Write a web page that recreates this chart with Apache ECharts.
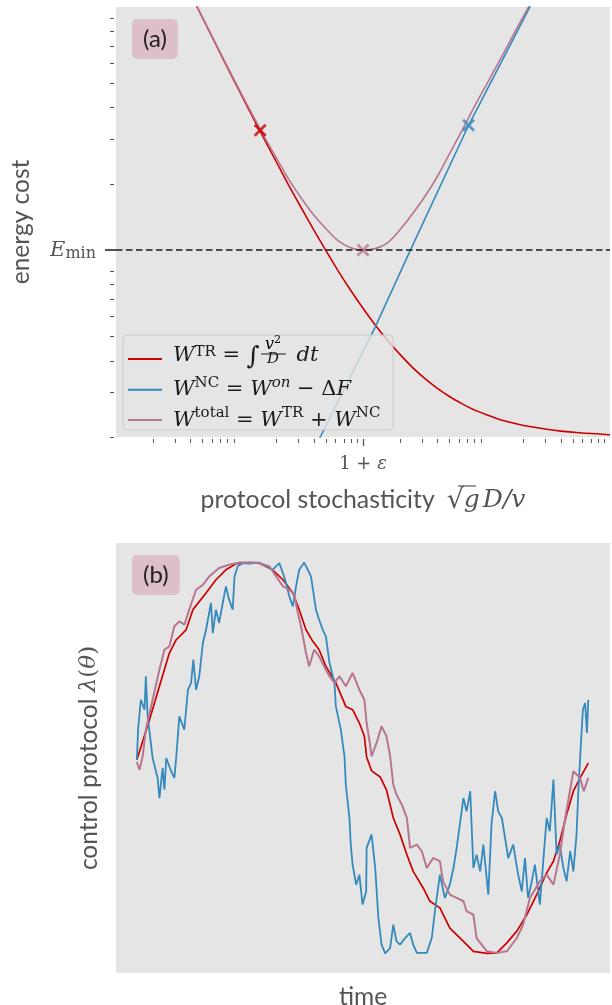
<!DOCTYPE html>
<html><head><meta charset="utf-8">
<script src="https://cdn.jsdelivr.net/npm/echarts@6/dist/echarts.min.js"></script>
<style>html,body{margin:0;padding:0;background:#fff}#c{width:612px;height:1005px}</style>
</head><body><div id="c"></div>
<script>
// ---------- Panel (a): energy cost vs protocol stochasticity (log-log) ----------
const xGrid = [0.0398,0.0501,0.0631,0.0794,0.1,0.126,0.158,0.2,0.251,0.316,0.398,0.501,0.631,0.794,1.0,1.26,1.58,2.0,2.51,3.16,3.98,5.01,6.31,7.94,10,12.6,15.8,20,25.1,31.6,39.8,50.1,63.1,79.4,100];
const yTR = [113.8,90.8,72.5,58.0,46.5,37.3,30.2,24.3,19.7,16.1,13.2,10.9,9.05,7.6,6.45,5.53,4.82,4.23,3.77,3.41,3.12,2.89,2.71,2.56,2.45,2.35,2.28,2.22,2.18,2.14,2.11,2.09,2.07,2.06,2.04];
const xTot = [0.0398,0.0501,0.0631,0.0794,0.1,0.126,0.158,0.2,0.251,0.316,0.398,0.501,0.631,0.794,1.0,1.26,1.58,2.0,2.51,3.16,3.98,5.01,6.31,7.94,10,12.6,15.8,20,25.1];
const yTot = [114.0,91.0,72.8,58.4,46.9,37.9,30.9,25.2,20.8,17.6,15.1,13.3,11.9,11.2,10.95,11.1,11.7,13.2,15.2,17.8,21.3,26.3,32.4,40.2,49.4,60.7,74.6,92.3,113];
const xNC = [0.4,0.451,1.258,2.42,7.16,22.3,25];
const yNC = [1.76,2.0,5.45,10.95,34.1,99.5,110];
const markX = [0.147, 7.16, 1.0];
const markY = [32.6, 34.1, 10.95];
const Emin = 10.95;
const xMinorTicks = [0.02,0.03,0.04,0.05,0.06,0.07,0.08,0.09,0.2,0.3,0.4,0.5,0.6,0.7,0.8,0.9,2,3,4,5,6,7,8,9,20,30,40,50,60,70,80,90];
const xMajorTicks = [1];
const yMinorTicks = [2,3,4,5,6,7,8,9,20,30,40,50,60,70,80,90];
const yMajorTicks = [Emin];

// ---------- Panel (b): control protocol vs time ----------
const tRed = [0,0.028,0.050,0.072,0.087,0.109,0.124,0.153,0.175,0.197,0.219,0.249,0.271,0.300,0.323,0.345,0.359,0.374,0.389,0.403,0.418,0.440,0.462,0.477,0.492,0.503,0.508,0.519,0.538,0.552,0.567,0.582,0.597,0.611,0.633,0.648,0.670,0.692,0.722,0.744,0.774,0.796,0.818,0.840,0.862,0.884,0.906,0.921,0.935,0.950,0.965,0.980,0.998];
const lamRed = [-0.01,0.196,0.367,0.537,0.605,0.656,0.759,0.844,0.912,0.963,0.994,1.0,0.997,0.963,0.912,0.844,0.759,0.656,0.597,0.554,0.469,0.384,0.264,0.247,0.179,0.111,0.005,-0.066,-0.097,-0.164,-0.307,-0.392,-0.495,-0.580,-0.665,-0.733,-0.767,-0.870,-0.938,-0.989,-1.0,-0.997,-0.946,-0.886,-0.802,-0.699,-0.588,-0.528,-0.426,-0.290,-0.170,-0.102,-0.026];
const tPink = [0,0.006,0.013,0.020,0.035,0.050,0.061,0.072,0.083,0.094,0.105,0.116,0.131,0.146,0.160,0.182,0.204,0.227,0.263,0.293,0.308,0.323,0.337,0.348,0.356,0.363,0.374,0.381,0.392,0.403,0.414,0.426,0.437,0.448,0.462,0.477,0.492,0.503,0.508,0.515,0.519,0.530,0.541,0.552,0.560,0.567,0.574,0.586,0.597,0.604,0.619,0.630,0.641,0.655,0.670,0.677,0.692,0.707,0.722,0.729,0.744,0.751,0.774,0.796,0.818,0.840,0.854,0.869,0.891,0.906,0.921,0.935,0.947,0.965,0.980,0.988,0.998];
const lamPink = [-0.02,-0.060,0.009,0.145,0.298,0.452,0.554,0.571,0.674,0.699,0.682,0.759,0.861,0.886,0.929,0.972,0.989,1.0,1.0,0.981,0.929,0.878,0.861,0.835,0.742,0.674,0.537,0.469,0.554,0.520,0.469,0.418,0.384,0.418,0.367,0.435,0.349,0.298,0.179,0.077,0.009,0.077,0.162,0.111,0.009,-0.137,-0.188,-0.239,-0.307,-0.460,-0.443,-0.477,-0.563,-0.512,-0.528,-0.631,-0.699,-0.716,-0.733,-0.784,-0.802,-0.921,-0.989,-0.997,-0.989,-0.921,-0.853,-0.716,-0.631,-0.597,-0.648,-0.495,-0.307,-0.068,-0.102,-0.170,-0.102];
const tBlue = [0,0.003,0.009,0.017,0.020,0.024,0.031,0.035,0.046,0.050,0.057,0.061,0.065,0.076,0.083,0.087,0.094,0.105,0.113,0.120,0.125,0.131,0.138,0.146,0.153,0.164,0.168,0.175,0.182,0.190,0.197,0.204,0.212,0.216,0.223,0.234,0.249,0.271,0.286,0.300,0.315,0.323,0.330,0.337,0.345,0.352,0.359,0.370,0.378,0.385,0.396,0.403,0.411,0.418,0.426,0.437,0.440,0.451,0.459,0.462,0.470,0.473,0.477,0.485,0.492,0.499,0.507,0.508,0.519,0.527,0.534,0.541,0.549,0.560,0.567,0.574,0.582,0.593,0.604,0.611,0.619,0.641,0.652,0.659,0.670,0.681,0.692,0.700,0.707,0.714,0.722,0.729,0.737,0.744,0.751,0.759,0.766,0.777,0.784,0.792,0.799,0.807,0.814,0.821,0.832,0.843,0.851,0.858,0.865,0.873,0.880,0.891,0.899,0.906,0.913,0.921,0.928,0.935,0.943,0.950,0.958,0.965,0.972,0.976,0.980,0.986,0.991,0.995,0.998];
const lamBlue = [-0.01,0.153,0.298,0.247,0.418,0.213,0.077,0.0,-0.102,-0.205,-0.051,-0.162,0.0,-0.068,-0.102,0.0,0.213,0.145,0.349,0.384,0.503,0.349,0.418,0.588,0.656,0.793,0.639,0.759,0.691,0.793,0.878,0.810,0.759,0.929,0.981,0.997,0.994,1.0,0.981,0.963,0.997,0.946,0.895,0.827,0.776,0.878,0.963,1.0,0.963,0.929,0.759,0.707,0.656,0.622,0.486,0.384,0.264,0.145,0.009,-0.137,-0.307,-0.443,-0.546,-0.648,-0.597,-0.750,-0.682,-0.460,-0.392,-0.563,-0.818,-0.955,-1.0,-0.972,-0.853,-0.938,-0.955,-0.921,-0.895,-0.955,-0.997,-0.997,-0.921,-0.784,-0.597,-0.716,-0.648,-0.563,-0.460,-0.341,-0.205,-0.273,-0.170,-0.563,-0.495,-0.580,-0.443,-0.699,-0.341,-0.170,-0.273,-0.307,-0.409,-0.512,-0.443,-0.597,-0.682,-0.512,-0.716,-0.631,-0.546,-0.750,-0.512,-0.307,-0.375,-0.11,-0.495,-0.443,-0.563,-0.631,-0.477,-0.580,-0.392,-0.170,0.0,0.247,0.281,0.128,0.298];

const zip = (a, b) => a.map((v, i) => [v, b[i]]);
const GRAY = '#555555', INK = '#1a1a1a';
const SERIF = 'DejaVu Serif', SANS = 'Lato';
const cRed = '#cc0000', cBlue = '#348abd', cPink = '#b8758f';
const XPATH = 'path://M0,1.5 L1.5,0 L5,3.5 L8.5,0 L10,1.5 L6.5,5 L10,8.5 L8.5,10 L5,6.5 L1.5,10 L0,8.5 L3.5,5 Z';

const M = 21, S = 15;
const mRich = {
  h: {width: 0, lineHeight: 28},
  w: {fontFamily: SERIF, fontStyle: 'italic', fontSize: M, lineHeight: 28, color: INK},
  o: {fontFamily: SERIF, fontSize: M, lineHeight: 28, color: INK},
  s: {fontFamily: SERIF, fontSize: S, lineHeight: 18, verticalAlign: 'top', color: INK},
  si: {fontFamily: SERIF, fontStyle: 'italic', fontSize: S, lineHeight: 18, verticalAlign: 'top', color: INK},
  w1: {fontFamily: SERIF, fontStyle: 'italic', fontSize: M, lineHeight: 16, verticalAlign: 'top', color: INK},
  o1: {fontFamily: SERIF, fontSize: M, lineHeight: 16, verticalAlign: 'top', color: INK},
  s1: {fontFamily: SERIF, fontSize: S, lineHeight: 6, verticalAlign: 'top', color: INK},
  int: {fontFamily: SERIF, fontSize: 25, lineHeight: 20, verticalAlign: 'top', color: INK},
  fr: {width: 30, lineHeight: 28}
};
const legendText = {
  TR: '{h|}{w1|W}{s1|TR}{o1| = }{int|∫}{fr|}{w1| dt}',
  NC: '{h|}{w|W}{s|NC}{o| = }{w|W}{si|on}{o| − Δ}{w|F}',
  total: '{h|}{w|W}{s|total}{o| = }{w|W}{s|TR}{o| + }{w|W}{s|NC}'
};

const chart = echarts.init(document.getElementById('c'));
const labelBox = (txt, top) => ({
  text: txt, left: 132, top: top, backgroundColor: '#dcbfca', borderRadius: 5,
  padding: [7, 11, 7, 11],
  textStyle: {fontFamily: SANS, fontSize: 24, fontWeight: 'normal', color: '#222', lineHeight: 26}
});

chart.setOption({
  animation: false,
  backgroundColor: '#ffffff',
  title: [labelBox('(a)', 19), labelBox('(b)', 555)],
  grid: [
    {left: 116, top: 7, width: 494, height: 430, show: true, backgroundColor: '#e5e5e5', borderWidth: 0, outerBoundsMode: 'none', containLabel: false},
    {left: 116, top: 543, width: 494, height: 430, show: true, backgroundColor: '#e5e5e5', borderWidth: 0, outerBoundsMode: 'none', containLabel: false}
  ],
  xAxis: [
    {type: 'log', logBase: 10, gridIndex: 0, min: 0.01, max: 100, position: 'bottom', offset: 2,
     axisLine: {show: false}, splitLine: {show: false}, axisLabel: {show: false},
     axisTick: {show: true, customValues: xMinorTicks, length: 4, lineStyle: {color: GRAY, width: 1}}},
    {type: 'log', logBase: 10, gridIndex: 0, min: 0.01, max: 100, position: 'bottom', offset: 2,
     axisLine: {show: false}, splitLine: {show: false},
     axisTick: {show: true, customValues: xMajorTicks, length: 7, lineStyle: {color: GRAY, width: 1.3}},
     axisLabel: {show: true, customValues: xMajorTicks, margin: 16, formatter: () => '{o|1 + }{w|ε}',
       rich: {o: {fontFamily: SERIF, fontSize: 18, color: GRAY}, w: {fontFamily: SERIF, fontStyle: 'italic', fontSize: 18, color: GRAY}}},
     name: '{t|protocol stochasticity}{sp|}{r|√}{m|g}{sp2|}{m|D/v}', nameLocation: 'middle', nameGap: 48,
     nameTextStyle: {rich: {
       t: {fontFamily: SANS, fontSize: 24.8, color: GRAY},
       sp: {width: 12},
       sp2: {width: 3},
       r: {fontFamily: SERIF, fontSize: 27, color: GRAY},
       m: {fontFamily: SERIF, fontStyle: 'italic', fontSize: 25, color: GRAY}}}},
    {type: 'value', gridIndex: 1, min: -0.046, max: 1.046,
     axisLine: {show: false}, axisTick: {show: false}, axisLabel: {show: false}, splitLine: {show: false},
     name: 'time', nameLocation: 'middle', nameGap: 12,
     nameTextStyle: {fontFamily: SANS, fontSize: 24.5, color: GRAY}}
  ],
  yAxis: [
    {type: 'log', logBase: 10, gridIndex: 0, min: 2, max: 100, position: 'left', offset: 2,
     axisLine: {show: false}, splitLine: {show: false}, axisLabel: {show: false},
     axisTick: {show: true, customValues: yMinorTicks, length: 4, lineStyle: {color: GRAY, width: 1}}},
    {type: 'log', logBase: 10, gridIndex: 0, min: 2, max: 100, position: 'left', offset: 0,
     axisLine: {show: false}, splitLine: {show: false},
     axisTick: {show: true, customValues: yMajorTicks, length: 11, lineStyle: {color: INK, width: 1.5}},
     axisLabel: {show: true, customValues: yMajorTicks, margin: 20, formatter: () => '{w|E}{s|min}',
       rich: {w: {fontFamily: SERIF, fontStyle: 'italic', fontSize: 21, lineHeight: 24, color: GRAY},
              s: {fontFamily: SERIF, fontSize: 16, lineHeight: 16, verticalAlign: 'bottom', color: GRAY}}},
     name: 'energy cost', nameLocation: 'middle', nameGap: 82,
     nameTextStyle: {fontFamily: SANS, fontSize: 24.5, color: GRAY}},
    {type: 'value', gridIndex: 1, min: -1.1, max: 1.1,
     axisLine: {show: false}, axisTick: {show: false}, axisLabel: {show: false}, splitLine: {show: false},
     name: '{t|control protocol }{m|λ}{o|(}{m|θ}{o|)}', nameLocation: 'middle', nameGap: 14,
     nameTextStyle: {rich: {
       t: {fontFamily: SANS, fontSize: 24.5, color: GRAY},
       m: {fontFamily: SERIF, fontStyle: 'italic', fontSize: 23, color: GRAY},
       o: {fontFamily: SERIF, fontSize: 23, color: GRAY}}}}
  ],
  legend: {
    show: true, orient: 'vertical', left: 123, top: 335, padding: [10, 8, 3, 5], itemGap: 5.8,
    itemWidth: 34, itemHeight: 2, icon: 'rect', selectedMode: false,
    data: ['TR', 'NC', 'total'],
    formatter: n => legendText[n],
    textStyle: {padding: [0, 0, 0, 6], rich: mRich}
  },
  graphic: [
    {type: 'rect', z: 3, shape: {x: 123, y: 335, width: 270, height: 95, r: 4},
     style: {fill: 'rgba(229,229,229,0.8)', stroke: 'rgba(200,200,200,0.9)', lineWidth: 1}},
    {type: 'text', z: 5, x: 273, y: 355, style: {text: '{m|v}{s|2}', align: 'center', verticalAlign: 'bottom', rich: {
       m: {fontFamily: SERIF, fontStyle: 'italic', fontSize: 16, lineHeight: 20, color: INK},
       s: {fontFamily: SERIF, fontSize: 11, lineHeight: 11, verticalAlign: 'top', color: INK}}}},
    {type: 'line', z: 5, shape: {x1: 261, y1: 354, x2: 286, y2: 354}, style: {stroke: INK, lineWidth: 1}},
    {type: 'text', z: 5, x: 273, y: 352, style: {text: 'D', align: 'center', verticalAlign: 'top', fontFamily: SERIF, fontStyle: 'italic', fontSize: 15, fill: INK}},
    {type: 'line', z: 5, shape: {x1: 458, y1: 486, x2: 476, y2: 486}, style: {stroke: GRAY, lineWidth: 1.2}}
  ],
  series: [
    {name: 'TR', type: 'line', xAxisIndex: 0, yAxisIndex: 0, data: zip(xGrid, yTR), smooth: 0.2,
     showSymbol: false, symbol: 'none', lineStyle: {color: cRed, width: 1.6}, itemStyle: {color: cRed}, z: 2},
    {name: 'NC', type: 'line', xAxisIndex: 0, yAxisIndex: 0, data: zip(xNC, yNC),
     showSymbol: false, symbol: 'none', lineStyle: {color: cBlue, width: 1.6}, itemStyle: {color: cBlue}, z: 2},
    {name: 'total', type: 'line', xAxisIndex: 0, yAxisIndex: 0, data: zip(xTot, yTot), smooth: 0.3,
     showSymbol: false, symbol: 'none', lineStyle: {color: cPink, width: 1.6}, itemStyle: {color: cPink}, z: 2},
    {name: 'markers', type: 'scatter', xAxisIndex: 0, yAxisIndex: 0, symbol: XPATH, symbolSize: 13, z: 4,
     data: markX.map((x, i) => ({value: [x, markY[i]], itemStyle: {color: [cRed, cBlue, cPink][i]}})),
     markLine: {silent: true, symbol: ['none', 'none'], label: {show: false},
       lineStyle: {color: INK, width: 1.5, type: [6.5, 3.5]}, data: [{yAxis: Emin}]}},
    {name: 'bTR', type: 'line', xAxisIndex: 2, yAxisIndex: 2, data: zip(tRed, lamRed), symbol: 'none',
     lineStyle: {color: cRed, width: 1.7}, z: 2},
    {name: 'bNC', type: 'line', xAxisIndex: 2, yAxisIndex: 2, data: zip(tBlue, lamBlue), symbol: 'none',
     lineStyle: {color: cBlue, width: 1.8}, z: 2},
    {name: 'bTot', type: 'line', xAxisIndex: 2, yAxisIndex: 2, data: zip(tPink, lamPink), symbol: 'none',
     lineStyle: {color: cPink, width: 2}, z: 2}
  ]
});
</script></body></html>
